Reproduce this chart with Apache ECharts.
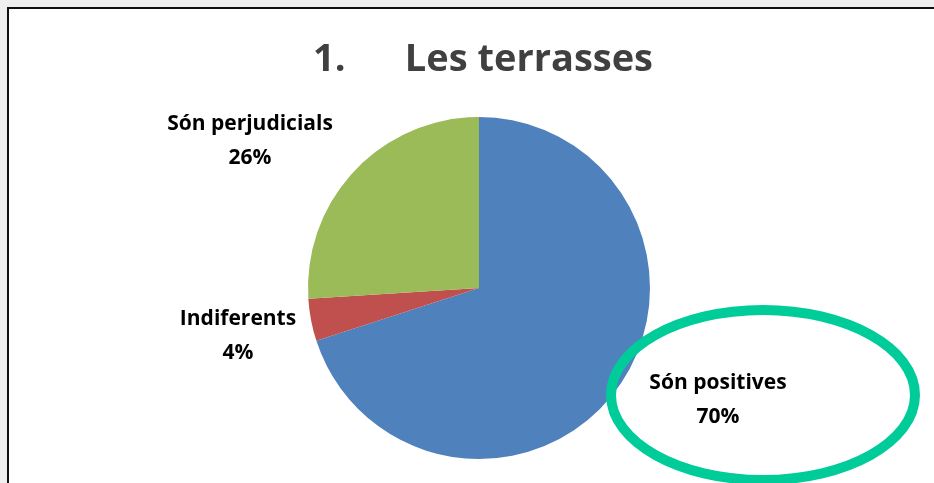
<!DOCTYPE html>
<html>
<head>
<meta charset="utf-8">
<script src="https://cdn.jsdelivr.net/npm/echarts@6/dist/echarts.min.js"></script>
<style>
  html, body { margin: 0; padding: 0; background: #efefef; }
  #chart { width: 934px; height: 483px; }
</style>
</head>
<body>
<div id="chart"></div>
<script>
// dades del gràfic
var categories = ['Són positives', 'Indiferents', 'Són perjudicials'];
var values = [70, 4, 26];
var colors = ['#4F81BD', '#C0504D', '#9BBB59'];

// on va cada etiqueta (centre del text)
var labelSpots = [[718, 400], [238, 336], [250, 141]];

var myChart = echarts.init(document.getElementById('chart'));

var option = {
    backgroundColor: 'transparent',
    animation: false,
    title: {
        text: '1.      Les terrasses',
        left: 478,
        textAlign: 'center',
        top: 36,
        textStyle: {
            fontFamily: 'Open Sans',
            fontWeight: 'bold',
            fontSize: 38,
            color: '#404040'
        }
    },
    graphic: [
        {
            type: 'rect',
            z: -10,
            shape: { x: 8, y: 8, width: 940, height: 490 },
            style: { fill: '#ffffff', stroke: '#111111', lineWidth: 2 }
        },
        {
            type: 'ellipse',
            z: 10,
            shape: { cx: 763, cy: 395, rx: 152, ry: 85 },
            style: { fill: 'transparent', stroke: '#00CC99', lineWidth: 10 }
        }
    ],
    series: [{
        type: 'pie',
        center: [479, 288],
        radius: [0, 171],
        startAngle: 90,
        clockwise: true,
        label: {
            show: true,
            position: 'outside',
            formatter: '{b}\n{d}%',
            fontFamily: 'Open Sans',
            fontWeight: 'bold',
            fontSize: 21,
            lineHeight: 34,
            color: '#000000',
            align: 'center'
        },
        labelLine: { show: false },
        labelLayout: function (params) {
            var p = labelSpots[params.dataIndex];
            return {
                x: p[0],
                y: p[1],
                align: 'center',
                verticalAlign: 'middle'
            };
        },
        emphasis: { disabled: true },
        data: categories.map(function (c, i) {
            return { name: c, value: values[i], itemStyle: { color: colors[i] } };
        })
    }]
};

myChart.setOption(option);
</script>
</body>
</html>
